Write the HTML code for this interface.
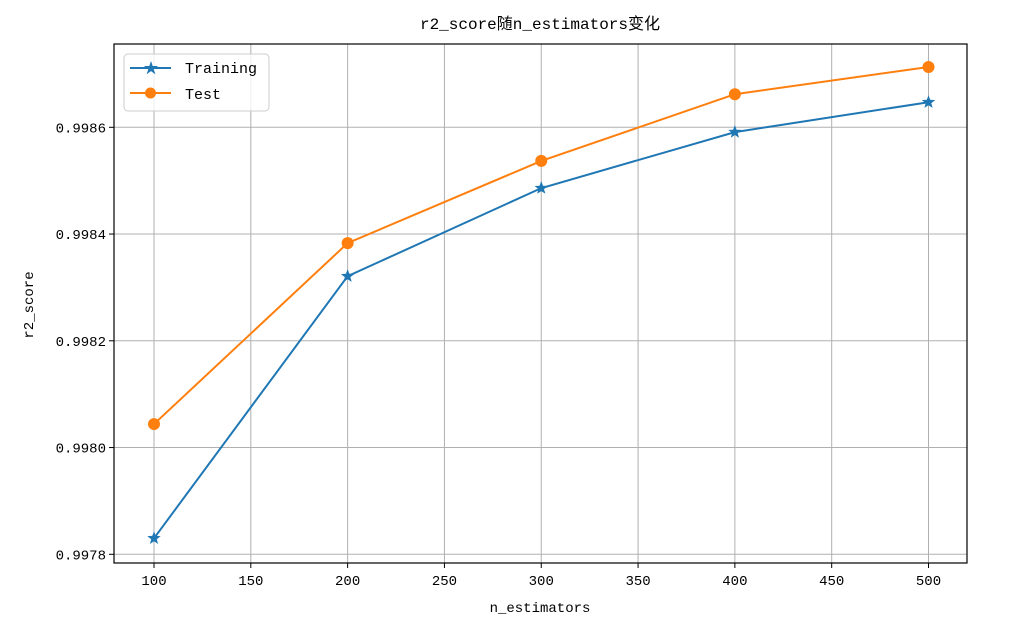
<!DOCTYPE html>
<html><head><meta charset="utf-8"><style>
body{margin:0;background:#fff;}
svg text{font-family:"Liberation Mono","Noto Sans CJK SC",monospace;fill:#000;}
</style></head><body>
<svg id="c" width="1009" height="631">
<text x="540" y="29" font-size="16" text-anchor="middle">r2_score随n_estimators变化</text>
<text x="540" y="612" font-size="14" text-anchor="middle">n_estimators</text>
<text transform="translate(33,305) rotate(-90)" font-size="14" text-anchor="middle">r2_score</text>
<g id="grid"></g><g id="ticks"></g><g id="series"></g>
<rect x="114" y="44" width="853" height="519" fill="none" stroke="#000" stroke-width="1.2"/>
<g>
<rect x="124" y="54" width="145" height="57" rx="4" fill="#fff" fill-opacity="0.8" stroke="#ccc"/>
<line x1="130" y1="68" x2="171" y2="68" stroke="#1f77b4" stroke-width="2"/>
<text x="151" y="73" font-size="15" fill="#1f77b4" text-anchor="middle" style="fill:#1f77b4">★</text>
<text x="185" y="73" font-size="15">Training</text>
<line x1="130" y1="93" x2="171" y2="93" stroke="#ff7f0e" stroke-width="2"/>
<circle cx="150.5" cy="93" r="5.5" fill="#ff7f0e"/>
<text x="185" y="99" font-size="15">Test</text>
</g>
</svg>
<script>
const categories=[100,200,300,400,500];
const training=[0.99783,0.998321,0.998486,0.998591,0.998647];
const test=[0.998044,0.998383,0.998537,0.998662,0.998713];
const xTicks=[100,150,200,250,300,350,400,450,500];
const yTicks=[0.9978,0.9980,0.9982,0.9984,0.9986];
const NS="http://www.w3.org/2000/svg";
function X(v){return 154+(v-100)*(928.5-154)/400;}
function Y(v){return 554.3-(v-0.9978)*(554.3-127.3)/0.0008;}
function mk(p,t,a){const e=document.createElementNS(NS,t);for(const k in a)e.setAttribute(k,a[k]);p.appendChild(e);return e;}
const G=document.getElementById('grid'),T=document.getElementById('ticks'),S=document.getElementById('series');
xTicks.forEach(v=>{const x=X(v);
const l=mk(G,'line',{x1:x,x2:x,y1:44,y2:563,stroke:'#b0b0b0','stroke-width':1});


mk(T,'line',{x1:x,x2:x,y1:563,y2:568,stroke:'#000'});
const t=mk(T,'text',{x:x,y:585,'font-size':14,'text-anchor':'middle'});t.textContent=v;

});
yTicks.forEach(v=>{const y=Y(v);
const l=mk(G,'line',{x1:114,x2:967,y1:y,y2:y,stroke:'#b0b0b0','stroke-width':1});


mk(T,'line',{x1:109,x2:114,y1:y,y2:y,stroke:'#000'});
const t=mk(T,'text',{x:106,y:y+5,'font-size':14,'text-anchor':'end'});t.textContent=v.toFixed(4);

});
function star(cx,cy,r){let p=[];for(let i=0;i<10;i++){const a=-Math.PI/2+i*Math.PI/5,rr=i%2?r*0.42:r;p.push((cx+rr*Math.cos(a)).toFixed(1)+','+(cy+rr*Math.sin(a)).toFixed(1));}return p.join(' ');}
function draw(vals,col,name,marker){
const pl=mk(S,'polyline',{points:vals.map((v,i)=>X(categories[i])+','+Y(v)).join(' '),fill:'none',stroke:col,'stroke-width':2});


vals.forEach((v,i)=>{let m;
if(marker==='star')m=mk(S,'polygon',{points:star(X(categories[i]),Y(v),7),fill:col});
else m=mk(S,'circle',{cx:X(categories[i]),cy:Y(v),r:6,fill:col});

});}
draw(training,'#1f77b4','training','star');
draw(test,'#ff7f0e','test','circle');
</script>
</body></html>
